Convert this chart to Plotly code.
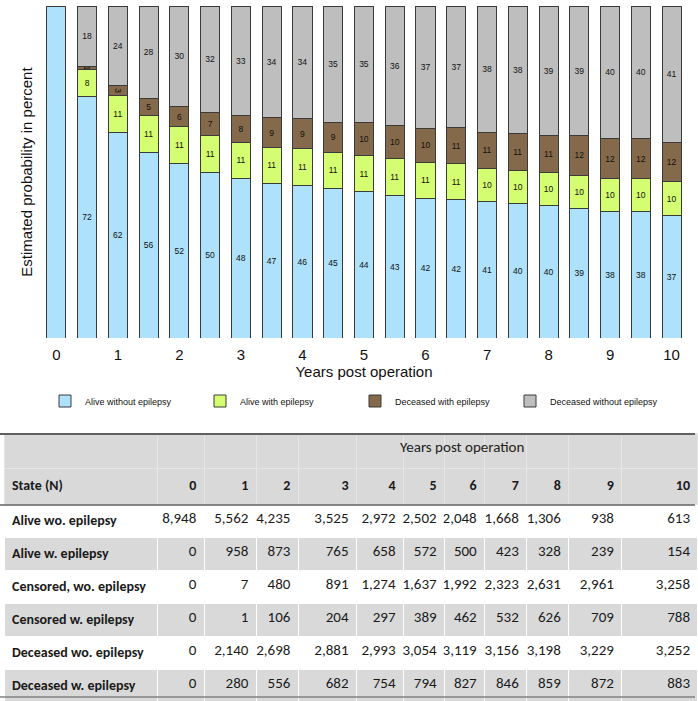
import plotly.graph_objects as go

W, H = 698, 701

# stacked bar data (percent), one bar every half year
years = [0, 0.5, 1, 1.5, 2, 2.5, 3, 3.5, 4, 4.5, 5, 5.5, 6, 6.5, 7, 7.5, 8, 8.5, 9, 9.5, 10]
alive_without = [100, 72, 62, 56, 52, 50, 48, 47, 46, 45, 44, 43, 42, 42, 41, 40, 40, 39, 38, 38, 37]
alive_with = [0, 8, 11, 11, 11, 11, 11, 11, 11, 11, 11, 11, 11, 11, 10, 10, 10, 10, 10, 10, 10]
deceased_with = [0, 1, 3, 5, 6, 7, 8, 9, 9, 9, 10, 10, 10, 11, 11, 11, 11, 12, 12, 12, 12]
deceased_without = [0, 18, 24, 28, 30, 32, 33, 34, 34, 35, 35, 36, 37, 37, 38, 38, 39, 39, 40, 40, 41]

series = [
    ("Alive without epilepsy", alive_without, "#aee1fb"),
    ("Alive with epilepsy", alive_with, "#d5fd72"),
    ("Deceased with epilepsy", deceased_with, "#84694a"),
    ("Deceased without epilepsy", deceased_without, "#bebebe"),
]

# table data
table_years = [0, 1, 2, 3, 4, 5, 6, 7, 8, 9, 10]
states = ["Alive wo. epilepsy", "Alive w. epilepsy", "Censored, wo. epilepsy",
          "Censored w. epilepsy", "Deceased wo. epilepsy", "Deceased w. epilepsy"]
n_alive_wo = [8948, 5562, 4235, 3525, 2972, 2502, 2048, 1668, 1306, 938, 613]
n_alive_w = [0, 958, 873, 765, 658, 572, 500, 423, 328, 239, 154]
n_cens_wo = [0, 7, 480, 891, 1274, 1637, 1992, 2323, 2631, 2961, 3258]
n_cens_w = [0, 1, 106, 204, 297, 389, 462, 532, 626, 709, 788]
n_dec_wo = [0, 2140, 2698, 2881, 2993, 3054, 3119, 3156, 3198, 3229, 3252]
n_dec_w = [0, 280, 556, 682, 754, 794, 827, 846, 859, 872, 883]
rows = [n_alive_wo, n_alive_w, n_cens_wo, n_cens_w, n_dec_wo, n_dec_w]

def py(px):
    return (H - px) / H

fig = go.Figure()
for name, vals, color in series:
    fig.add_trace(go.Bar(
        x=years, y=vals, name=name,
        width=0.31,
        marker=dict(color=color, line=dict(color="#3a3a3a", width=1)),
        text=[str(v) if 0 < v < 100 else "" for v in vals],
        textposition="inside", insidetextanchor="middle",
        constraintext="none",
        textfont=dict(size=8.5, color="#111", family="Liberation Sans"),
        hoverinfo="skip",
    ))

table_font = "Carlito, Lato"
header_vals = [["", "<b>State (N)</b>"]] + [["", f"<b>{y}</b>"] for y in table_years]
cell_vals = [["<b>" + s + "</b>" for s in states]] + [[r[i] for r in rows] for i in range(len(table_years))]
row_colors = ["white", "#d9d9d9"] * 3

fig.add_trace(go.Table(
    domain=dict(x=[4 / W, 1], y=[0, py(433)]),
    columnwidth=[153, 47, 52, 42, 58, 47, 41, 40, 42, 42, 53, 76],
    header=dict(values=header_vals, height=35.5,
                fill_color="#d9d9d9", line=dict(color="#e6e6e6", width=1),
                align=["left"] + ["right"] * 11,
                font=dict(family=table_font, size=14, color="#1a1a1a")),
    cells=dict(values=cell_vals, height=32,
               format=[None] + [","] * 11,
               fill_color=[row_colors], line=dict(color="white", width=1),
               align=["left"] + ["right"] * 11,
               font=dict(family=table_font, size=[14] + [15] * 11, color="#1a1a1a")),
))

fig.add_annotation(text="Years post operation", xref="paper", yref="paper",
                   x=462 / W, y=py(447), showarrow=False,
                   font=dict(family=table_font, size=15, color="#222"))

for ypx, w, c in [(434, 2, "#606060"), (505, 1.5, "#606060"), (697, 1.5, "#808080")]:
    fig.add_shape(type="line", xref="paper", yref="paper",
                  x0=0, x1=695 / W, y0=py(ypx), y1=py(ypx),
                  line=dict(color=c, width=w))

fig.update_layout(
    width=W, height=H,
    margin=dict(l=0, r=0, t=0, b=0),
    barmode="stack", barnorm="percent",
    paper_bgcolor="white", plot_bgcolor="white",
    font=dict(family="Liberation Sans", color="#111"),
    xaxis=dict(domain=[41 / W, 687 / W], range=[-0.25, 10.25],
               tickvals=table_years, showgrid=False, zeroline=False, showline=False,
               tickfont=dict(size=15), ticklabelstandoff=6,
               title=dict(text="Years post operation", font=dict(size=15), standoff=2)),
    yaxis=dict(domain=[py(338), py(6)], range=[0, 100],
               showticklabels=False, showgrid=False, zeroline=False, showline=False,
               title=dict(text="Estimated probability in percent", font=dict(size=15), standoff=3)),
    legend=dict(orientation="h", x=45 / W, xanchor="left", y=py(401), yanchor="middle",
                entrywidth=110, itemwidth=30, traceorder="normal",
                font=dict(size=9, family="Liberation Sans")),
)

fig.write_html("out.html", config={"displayModeBar": False},
               post_script="document.body.style.margin='0';")
